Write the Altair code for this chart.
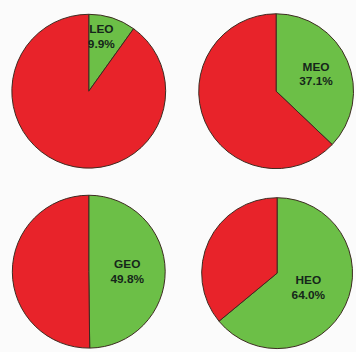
import altair as alt
import pandas as pd

# Data
orbits = ["LEO", "MEO", "GEO", "HEO"]
shares = [9.9, 37.1, 49.8, 64.0]
parts = ["share", "rest"]

rows = []
for o, s in zip(orbits, shares):
    rows.append({"orbit": o, "part": "share", "k": 0, "value": s,
                 "label": f"{o}\n{s:.1f}%"})
    rows.append({"orbit": o, "part": "rest", "k": 1, "value": round(100 - s, 1),
                 "label": ""})
df = pd.DataFrame(rows)

GREEN = "#6cbf47"
RED = "#e8232a"
LINE_H = 15

# per-panel layout (width, height, outer radius, label radius, label dx)
layout = {
    "LEO": (156, 156, 78, 58, -5),
    "MEO": (156, 156, 78.5, 44, 0),
    "GEO": (156, 156, 77.5, 39, 0),
    "HEO": (154, 159, 76.5, 35, 0),
}


def panel(o):
    w, h, r, lr, ldx = layout[o]
    base = alt.Chart(df).transform_filter(alt.datum.orbit == o)
    arc = base.mark_arc(outerRadius=r, stroke="#3b2a20", strokeWidth=1).encode(
        theta=alt.Theta("value:Q", stack=True),
        color=alt.Color("part:N", scale=alt.Scale(domain=parts, range=[GREEN, RED])),
        order=alt.Order("k:Q"),
    )
    txt = base.transform_filter(alt.datum.part == "share").mark_text(
        radius=lr, dx=ldx, dy=-LINE_H / 2, lineBreak="\n", font="Liberation Sans",
        fontWeight="bold", fontSize=12, lineHeight=LINE_H, color="#15261a",
    ).encode(
        theta=alt.Theta("value:Q", stack=True),
        order=alt.Order("k:Q"),
        text="label:N",
    )
    return alt.layer(arc, txt).properties(width=w, height=h)


row1 = alt.hconcat(panel("LEO"), panel("MEO"), spacing=29)
row2 = alt.hconcat(panel("GEO"), panel("HEO"), spacing=32)
chart = alt.vconcat(row1, row2, spacing=22).properties(
    padding={"left": 10, "top": 9, "right": 0, "bottom": 0},
    background="#fbfbfb",
).configure_view(stroke="transparent").configure_legend(disable=True)

chart.save("out.html", embed_options={"renderer": "svg", "actions": False})
